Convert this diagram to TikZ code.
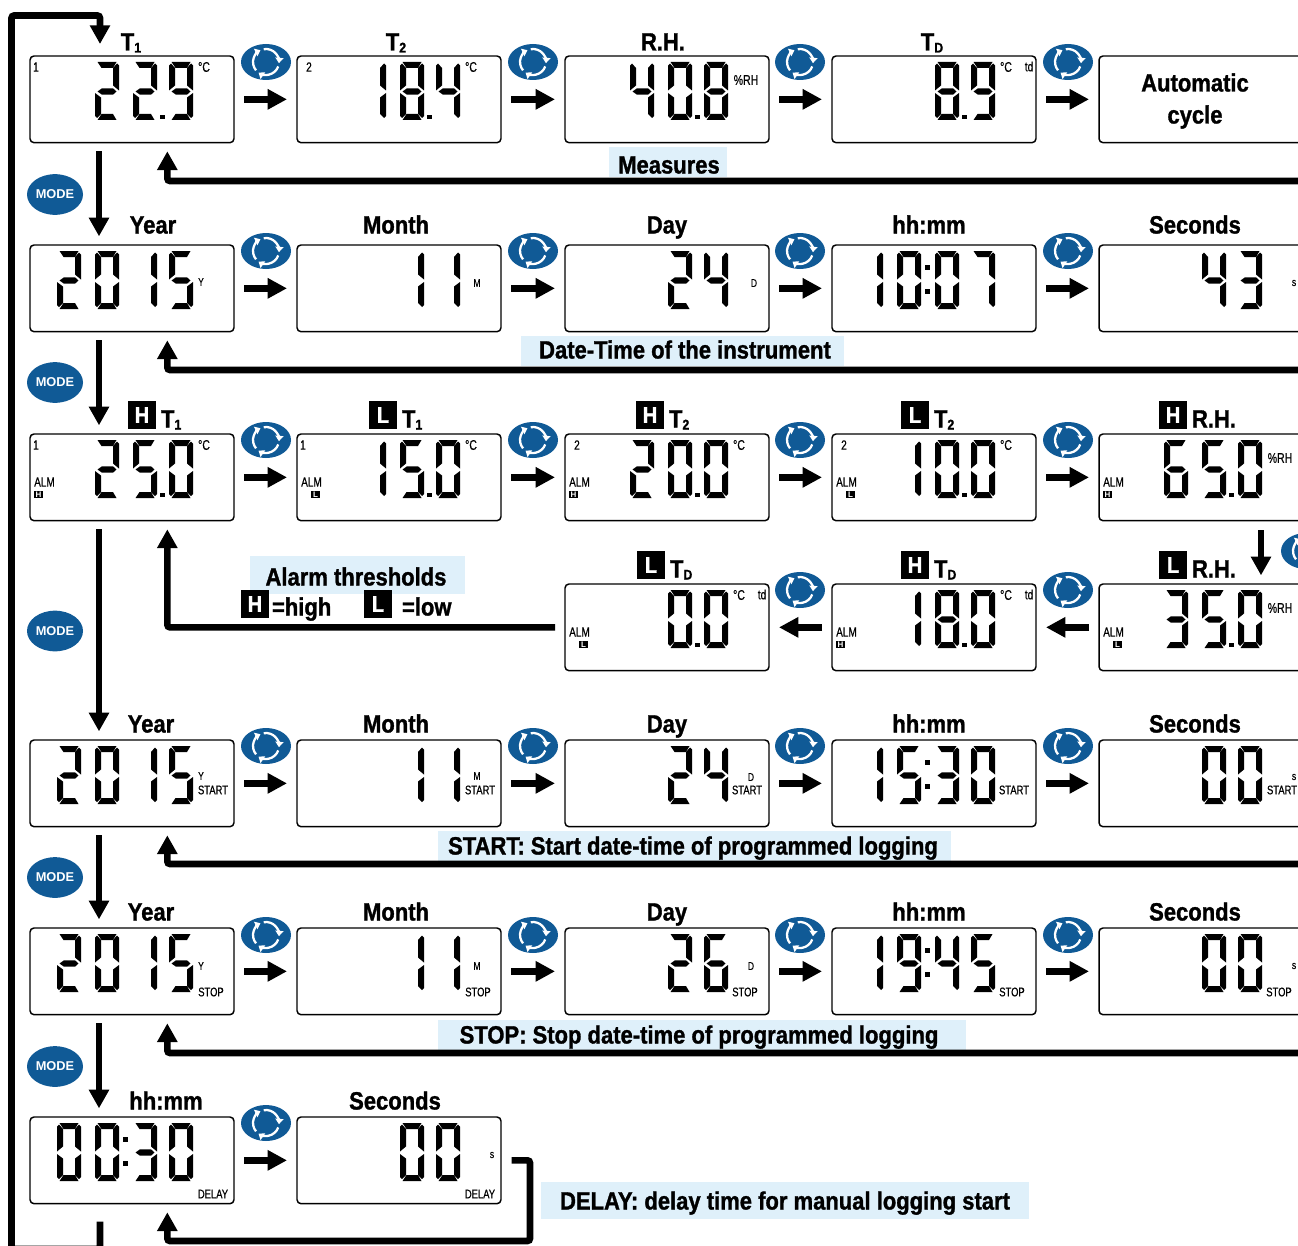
\documentclass[tikz,border=0pt]{standalone}
\usepackage{fontspec}
\usetikzlibrary{arrows.meta,calc,shapes.geometric}
\newfontfamily\cnb[FakeStretch=0.88,FakeBold=1.2,UprightFont=* Bold]{Liberation Sans}
\newfontfamily\cnr[FakeStretch=0.75,FakeBold=0.5]{Liberation Sans}
\newfontfamily\hvb[UprightFont=* Bold]{Liberation Sans}
\definecolor{icoblue}{HTML}{105A96}
\definecolor{bandc}{HTML}{DFF0FA}
\definecolor{ink}{HTML}{000000}
\tikzset{
  x=0.75pt,y=-0.75pt,
  lcd/.style={draw=ink,line width=1.1pt,rounded corners=3pt,anchor=north west,minimum width=153pt,minimum height=65pt,inner sep=0pt,outer sep=0pt},
  ico/.style={ellipse,fill=icoblue,minimum width=37.5pt,minimum height=27pt,inner sep=0pt,outer sep=0pt},
  modeb/.style={ellipse,fill=icoblue,minimum width=42pt,minimum height=30.5pt,inner sep=0pt,text=white,font=\hvb\fontsize{9.6pt}{10pt}\selectfont},
  lbl/.style={inner sep=0pt,outer sep=0pt,anchor=base,font=\cnb\fontsize{18.75pt}{20pt}\selectfont},
  lbll/.style={lbl,anchor=base west},
  tiny/.style={inner sep=0pt,outer sep=0pt,anchor=center,font=\cnr\fontsize{#1}{#1}\selectfont},
  badge/.style={fill=black,text=white,minimum size=21pt,inner sep=0pt,outer sep=0pt,font=\cnb\fontsize{17pt}{17pt}\selectfont},
  mini/.style={fill=black,text=white,minimum width=6.8pt,minimum height=5.5pt,inner sep=0pt,outer sep=0pt,font=\hvb\fontsize{6pt}{6pt}\selectfont},
  stepar/.style={line width=5.4pt,-{Triangle[length=14.5pt,width=14.5pt]},shorten <=7.5pt,shorten >=7.5pt},
  bigar/.style={line width=5pt,rounded corners=2pt,-{Triangle[length=14pt,width=14.5pt]}},
  rot/.style={white,line width=1.7pt,-{Triangle[length=4pt,width=6pt]}},
}
\newcommand\segA{\fill (2.5,0)--(21.5,0)--(18,6)--(6.5,6)--cycle;}
\newcommand\segB{\fill (24,3.5)--(22,1.5)--(18,6)--(18,23.5)--(24,28.5)--cycle;}
\newcommand\segC{\fill (24,31)--(18,35.5)--(18,52)--(22,56)--(24,54)--cycle;}
\newcommand\segD{\fill (2.5,58)--(21.5,58)--(18,52)--(6.5,52)--cycle;}
\newcommand\segE{\fill (0,31)--(6,35.5)--(6,52)--(2,56)--(0,54)--cycle;}
\newcommand\segF{\fill (0,3.5)--(2,1.5)--(6,6)--(6,23.5)--(0,28.5)--cycle;}
\newcommand\segG{\fill (2.5,29.5)--(7,26.3)--(18,26.3)--(21.5,29.5)--(18,32.7)--(7,32.7)--cycle;}
\expandafter\def\csname dg0\endcsname{\segA\segB\segC\segD\segE\segF}
\expandafter\def\csname dg1\endcsname{\segB\segC}
\expandafter\def\csname dg2\endcsname{\segA\segB\segG\segE\segD}
\expandafter\def\csname dg3\endcsname{\segA\segB\segG\segC\segD}
\expandafter\def\csname dg4\endcsname{\segF\segB\segG\segC}
\expandafter\def\csname dg5\endcsname{\segA\segF\segG\segC\segD}
\expandafter\def\csname dg6\endcsname{\segA\segF\segG\segE\segC\segD}
\expandafter\def\csname dg7\endcsname{\segA\segB\segC}
\expandafter\def\csname dg8\endcsname{\segA\segB\segC\segD\segE\segF\segG}
\expandafter\def\csname dg9\endcsname{\segA\segB\segC\segD\segF\segG}
\newcommand\Dg[2]{\begin{scope}[shift={(#1,6)}]\csname dg#2\endcsname\end{scope}}
\newcommand\LCD[8]{%
  \node[lcd] (#1) at (#2,#3) {};
  \begin{scope}[shift={(#2,#3)}]
    \Dg{27}{#4}\Dg{65}{#5}\Dg{103}{#6}\Dg{139}{#7}
    #8
  \end{scope}}
\newcommand\Pt{\fill (130,59) rectangle (135,63);}
\newcommand\Cln{\fill (92.5,20) rectangle (97.5,25);\fill (92.5,44) rectangle (97.5,49);}
\newcounter{nn}
\newcommand\Tx[4][9.4pt]{\stepcounter{nn}\node[tiny=#1] (t\arabic{nn}) at (#2,#3) {#4};}
\newcommand\Lbl[3]{\stepcounter{nn}\node[lbl] (l\arabic{nn}) at (#1,#2-0.5) {#3};}
\newcommand\LblL[3]{\stepcounter{nn}\node[lbll] (l\arabic{nn}) at (#1,#2-0.5) {#3};}
\newcommand\Sbb[1]{\raisebox{-1.5pt}{\fontsize{10.5pt}{11pt}\selectfont #1}}
\newcommand\Bdg[3]{\stepcounter{nn}\node[badge] (b\arabic{nn}) at (#2+14,#3+14) {#1};}
\newcommand\AlmH{\Tx[10pt]{14.5}{48}{ALM}\stepcounter{nn}\node[mini] (m\arabic{nn}) at (8.5,60.5) {H};}
\newcommand\AlmL{\Tx[10pt]{14.5}{48}{ALM}\stepcounter{nn}\node[mini] (m\arabic{nn}) at (18.5,60.5) {L};}
\newcommand\Cdeg{\Tx[10.5pt]{174}{11}{°C}}
\newcommand\Td{\Tx[10pt]{197}{10.5}{td}}
\newcommand\Rh{\Tx[10.5pt]{181}{24}{\%RH}}
\newcommand\Ico[3]{%
  \node[ico] (#1) at (#2,#3) {};
  \begin{scope}[shift={(#1.center)},x=0.75pt,y=0.75pt]
    \draw[rot] (100:13) arc[start angle=100,end angle=-5,radius=13];
    \draw[rot] (-20:13) arc[start angle=-20,end angle=-125,radius=13];
    \draw[rot] (220:13) arc[start angle=220,end angle=115,radius=13];
  \end{scope}}
\newcommand\Band[4]{\fill[bandc] (#1,#2) rectangle (#3,#4);}
\begin{document}
\begin{tikzpicture}
\useasboundingbox (0,0) rectangle (1298,1245);
\clip (0,0) rectangle (1298,1245);
% bands
\Band{609}{147}{727}{177}
\Band{521}{336}{844}{366}
\Band{250}{556}{465}{594}
\Band{438}{831}{951}{862}
\Band{438}{1020}{966}{1050}
\Band{541}{1182}{1029}{1219}
% row 1
\LCD{a11}{30}{56}{}{2}{2}{9}{\Pt\Tx[10pt]{6}{11}{1}\Cdeg}
\LCD{a12}{297}{56}{}{1}{8}{4}{\Pt\Tx[10pt]{12}{11}{2}\Cdeg}
\LCD{a13}{565}{56}{}{4}{0}{8}{\Pt\Rh}
\LCD{a14}{832}{56}{}{}{8}{9}{\Pt\Cdeg\Td}
\node[lcd] (a15) at (1099,56) {};
% row 2
\LCD{a21}{30}{245}{2}{0}{1}{5}{\Tx[8.5pt]{171}{37}{Y}}
\LCD{a22}{297}{245}{}{}{1}{1}{\Tx[8.5pt]{180}{38}{M}}
\LCD{a23}{565}{245}{}{}{2}{4}{\Tx[8.5pt]{189}{38}{D}}
\LCD{a24}{832}{245}{1}{0}{0}{7}{\Cln}
\LCD{a25}{1099}{245}{}{}{4}{3}{\Tx[8.5pt]{195}{38}{s}}
% row 3
\LCD{a31}{30}{434}{}{2}{5}{0}{\Pt\Tx[10pt]{6}{11}{1}\Cdeg\AlmH}
\LCD{a32}{297}{434}{}{1}{5}{0}{\Pt\Tx[10pt]{6}{11}{1}\Cdeg\AlmL}
\LCD{a33}{565}{434}{}{2}{0}{0}{\Pt\Tx[10pt]{12}{11}{2}\Cdeg\AlmH}
\LCD{a34}{832}{434}{}{1}{0}{0}{\Pt\Tx[10pt]{12}{11}{2}\Cdeg\AlmL}
\LCD{a35}{1099}{434}{}{6}{5}{0}{\Pt\Rh\AlmH}
% row 4
\LCD{a43}{565}{584}{}{}{0}{0}{\Pt\Cdeg\Td\AlmL}
\LCD{a44}{832}{584}{}{1}{8}{0}{\Pt\Cdeg\Td\AlmH}
\LCD{a45}{1099}{584}{}{3}{5}{0}{\Pt\Rh\AlmL}
% row 5
\LCD{a51}{30}{740}{2}{0}{1}{5}{\Tx[8.5pt]{171}{36}{Y}\Tx{183}{50}{START}}
\LCD{a52}{297}{740}{}{}{1}{1}{\Tx[8.5pt]{180}{36}{M}\Tx{183}{50}{START}}
\LCD{a53}{565}{740}{}{}{2}{4}{\Tx[8.5pt]{186}{37}{D}\Tx{182}{50}{START}}
\LCD{a54}{832}{740}{1}{5}{3}{0}{\Cln\Tx{182}{50}{START}}
\LCD{a55}{1099}{740}{}{}{0}{0}{\Tx[8.5pt]{195}{37}{s}\Tx{183}{50}{START}}
% row 6
\LCD{a61}{30}{928}{2}{0}{1}{5}{\Tx[8.5pt]{171}{38}{Y}\Tx{181}{64}{STOP}}
\LCD{a62}{297}{928}{}{}{1}{1}{\Tx[8.5pt]{180}{38}{M}\Tx{181}{64}{STOP}}
\LCD{a63}{565}{928}{}{}{2}{6}{\Tx[8.5pt]{186}{38}{D}\Tx{180}{64}{STOP}}
\LCD{a64}{832}{928}{1}{9}{4}{5}{\Cln\Tx{180}{64}{STOP}}
\LCD{a65}{1099}{928}{}{}{0}{0}{\Tx[8.5pt]{195}{38}{s}\Tx{180}{64}{STOP}}
% row 7
\LCD{a71}{30}{1117}{0}{0}{3}{0}{\Cln\Tx{183}{77}{DELAY}}
\LCD{a72}{297}{1117}{}{}{0}{0}{\Tx[8.5pt]{195}{38}{s}\Tx{183}{77}{DELAY}}
% icons
\foreach \r/\y in {1/62,2/251,3/440,5/746,6/935}{
  \Ico{i\r1}{266}{\y}\Ico{i\r2}{533}{\y}\Ico{i\r3}{800}{\y}\Ico{i\r4}{1068}{\y}
}
\Ico{i43}{800}{590}\Ico{i44}{1068}{590}
\Ico{i45}{1306}{551}
\Ico{i71}{266}{1123}
% mode buttons
\node[modeb] (m1) at (55,194.5) {MODE};
\node[modeb] (m2) at (55,382.5) {MODE};
\node[modeb] (m3) at (55,631) {MODE};
\node[modeb] (m4) at (55,877.5) {MODE};
\node[modeb] (m5) at (55,1066.5) {MODE};
% step arrows
\foreach \r in {1,2,3,5,6}{
  \draw[stepar] (a\r1.east) -- (a\r2.west);
  \draw[stepar] (a\r2.east) -- (a\r3.west);
  \draw[stepar] (a\r3.east) -- (a\r4.west);
  \draw[stepar] (a\r4.east) -- (a\r5.west);
}
\draw[stepar] (a71.east) -- (a72.west);
\draw[stepar] (a45.west) -- (a44.east);
\draw[stepar] (a44.west) -- (a43.east);
\draw[bigar,shorten <=7pt,shorten >=6.5pt] ([xshift=45pt]a35.south) -- ([xshift=45pt]a45.north);
% mode arrows
\draw[bigar,shorten <=6.5pt,shorten >=6.5pt] ([xshift=-24.75pt]a11.south) -- ([xshift=-24.75pt]a21.north);
\draw[bigar,shorten <=6.5pt,shorten >=6.5pt] ([xshift=-24.75pt]a21.south) -- ([xshift=-24.75pt]a31.north);
\draw[bigar,shorten <=6.5pt,shorten >=6.5pt] ([xshift=-24.75pt]a31.south) -- ([xshift=-24.75pt]a51.north);
\draw[bigar,shorten <=6.5pt,shorten >=6.5pt] ([xshift=-24.75pt]a51.south) -- ([xshift=-24.75pt]a61.north);
\draw[bigar,shorten <=6.5pt,shorten >=6.5pt] ([xshift=-24.75pt]a61.south) -- ([xshift=-24.75pt]a71.north);
% return arrows
\coordinate (r1) at (1310,181);
\coordinate (r2) at (1310,370);
\coordinate (r5) at (1310,864);
\coordinate (r6) at (1310,1053);
\draw[bigar,shorten >=6.5pt] (r1) -| ([xshift=26.5pt]a11.south);
\draw[bigar,shorten >=6.5pt] (r2) -| ([xshift=26.5pt]a21.south);
\draw[bigar,shorten <=7.5pt,shorten >=6.5pt] (a43.west) -| ([xshift=26.5pt]a31.south);
\draw[bigar,shorten >=6.5pt] (r5) -| ([xshift=26.5pt]a51.south);
\draw[bigar,shorten >=6.5pt] (r6) -| ([xshift=26.5pt]a61.south);
\coordinate (d1) at (530,1241);
\draw[bigar,shorten <=8pt,shorten >=6.5pt] (a72.east) -| (d1) -| ([xshift=26.5pt]a71.south);
% big loop
\coordinate (lb) at (11.5,1249);
\coordinate (lt) at (11.5,15.5);
\draw[bigar,shorten <=13.5pt,shorten >=9pt] ([xshift=-24pt]a71.south) |- (lb) -- (lt) -| ([xshift=-24pt]a11.north);
% titles row 1
\Lbl{131}{51}{T\Sbb{1}}
\Lbl{396}{51}{T\Sbb{2}}
\Lbl{663}{51}{R.H.}
\Lbl{932}{51}{T\Sbb{D}}
\Lbl{1195}{92}{Automatic}
\Lbl{1195}{124}{cycle}
\Lbl{669}{174}{Measures}
% row 2
\Lbl{153}{234}{Year}\Lbl{396}{234}{Month}\Lbl{667}{234}{Day}\Lbl{929}{234}{hh:mm}\Lbl{1195}{234}{Seconds}
\Lbl{685}{359}{Date-Time of the instrument}
% row 3
\Bdg{H}{128}{401}\LblL{161}{428}{T\Sbb{1}}
\Bdg{L}{369}{401}\LblL{402}{428}{T\Sbb{1}}
\Bdg{H}{636}{401}\LblL{669}{428}{T\Sbb{2}}
\Bdg{L}{901}{401}\LblL{934}{428}{T\Sbb{2}}
\Bdg{H}{1159}{401}\LblL{1192}{428}{R.H.}
% row 4
\Bdg{L}{637}{551}\LblL{670}{578}{T\Sbb{D}}
\Bdg{H}{901}{551}\LblL{934}{578}{T\Sbb{D}}
\Bdg{L}{1159}{551}\LblL{1192}{578}{R.H.}
\Lbl{356}{586}{Alarm thresholds}
\Bdg{H}{241}{590}\LblL{272}{616}{=high}
\Bdg{L}{364}{590}\LblL{402}{616}{=low}
% row 5
\Lbl{151}{733}{Year}\Lbl{396}{733}{Month}\Lbl{667}{733}{Day}\Lbl{929}{733}{hh:mm}\Lbl{1195}{733}{Seconds}
\Lbl{693}{855}{START: Start date-time of programmed logging}
% row 6
\Lbl{151}{921}{Year}\Lbl{396}{921}{Month}\Lbl{667}{921}{Day}\Lbl{929}{921}{hh:mm}\Lbl{1195}{921}{Seconds}
\Lbl{699}{1044}{STOP: Stop date-time of programmed logging}
% row 7
\Lbl{166}{1110}{hh:mm}\Lbl{395}{1110}{Seconds}
\Lbl{785}{1210}{DELAY: delay time for manual logging start}
\end{tikzpicture}
\end{document}
